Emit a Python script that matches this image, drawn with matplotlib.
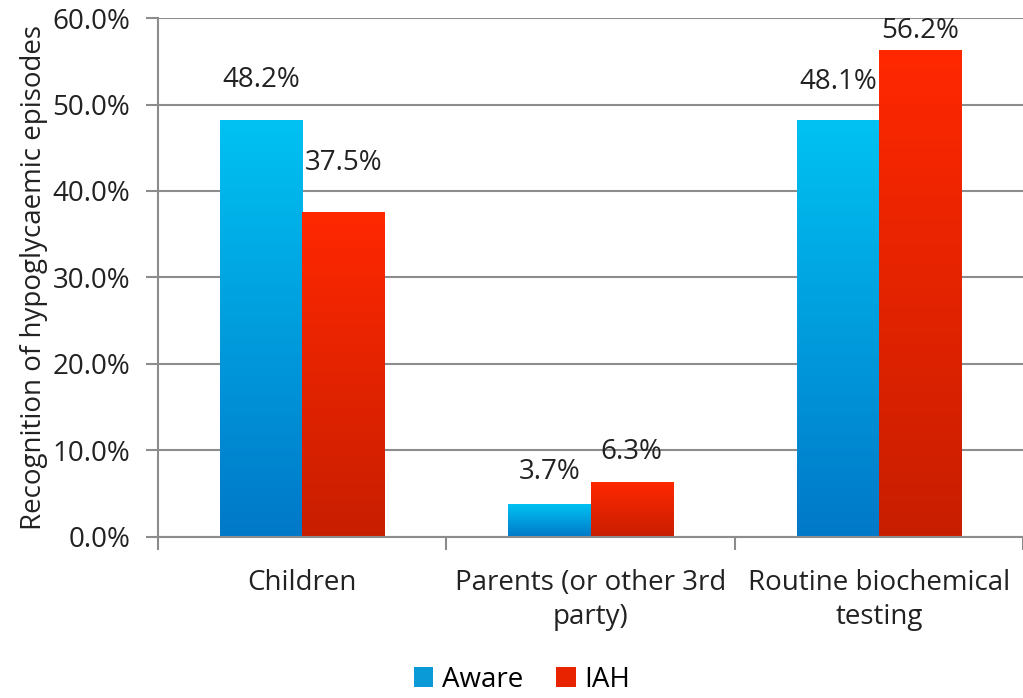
import numpy as np
import matplotlib
matplotlib.use('Agg')
from matplotlib import pyplot as plt
from matplotlib.colors import LinearSegmentedColormap
from matplotlib.patches import Patch

categories = ['Children', 'Parents (or other 3rd\nparty)', 'Routine biochemical\ntesting']
aware = [48.2, 3.7, 48.1]
iah = [37.5, 6.3, 56.2]
series_names = ['Aware', 'IAH']
yticks = [0, 10, 20, 30, 40, 50, 60]

# label offsets above bar top (points), matching the excel placement
aware_off = [29, 24, 28]
iah_off = [36, 22, 14]

plt.rcParams['font.family'] = ['Open Sans', 'DejaVu Sans']

blue_cm = LinearSegmentedColormap.from_list('b', ['#0078c8', '#00c2f2'])
red_cm = LinearSegmentedColormap.from_list('r', ['#c81e00', '#ff2800'])
txt = '#222222'

fig = plt.figure(figsize=(10.23, 6.98), dpi=100)
ax = fig.add_axes([0.1546, 0.2307, 0.8454, 0.7435])

x = np.arange(len(categories))
w = 0.285
grad = np.linspace(0, 1, 256).reshape(-1, 1)

def grad_bars(xs, vals, cmap, offs):
    bars = ax.bar(xs, vals, w, color='none', edgecolor='none', zorder=3)
    for b, v, o in zip(bars, vals, offs):
        x0 = b.get_x()
        ax.imshow(grad, cmap=cmap, origin='lower', aspect='auto',
                  extent=[x0, x0 + w, 0, v], zorder=3)
        ax.annotate('%.1f%%' % v, (x0 + w / 2, v), xytext=(0, o),
                    textcoords='offset points', ha='center', va='center',
                    fontsize=20, color=txt)
    return bars

grad_bars(x - w / 2, aware, blue_cm, aware_off)
grad_bars(x + w / 2, iah, red_cm, iah_off)

ax.set_xlim(-0.5, 2.467)
ax.set_ylim(0, 60)
ax.set_yticks(yticks)
ax.set_yticklabels(['%.1f%%' % t for t in yticks], fontsize=20, color=txt)
ax.set_xticks(x)
ax.set_xticklabels(categories, fontsize=20, color=txt, linespacing=1.3)
ax.set_xticks([-0.5, 0.5, 1.5, 2.5], minor=True)
ax.tick_params(axis='x', which='major', length=0, pad=23)
ax.tick_params(axis='x', which='minor', length=9, width=1.5, color='#8c8c8c')
ax.tick_params(axis='y', length=9, width=1.5, color='#8c8c8c', pad=11)
ax.grid(axis='y', color='#8c8c8c', linewidth=1.5, zorder=0)
ax.set_axisbelow(True)
for s in ['top', 'right']:
    ax.spines[s].set_visible(False)
for s in ['left', 'bottom']:
    ax.spines[s].set_color('#8c8c8c')
    ax.spines[s].set_linewidth(1.5)
ax.spines['bottom'].set_zorder(4)

ax.set_ylabel('Recognition of hypoglycaemic episodes', fontsize=20, color=txt, labelpad=3)

handles = [Patch(facecolor='#0a9ad8', edgecolor='none'), Patch(facecolor='#e82400', edgecolor='none')]
fig.legend(handles, series_names, loc='lower center', bbox_to_anchor=(0.51, -0.03), ncol=2,
           frameon=False, fontsize=20, handlelength=0.7, handleheight=0.7,
           handletextpad=0.3, columnspacing=1.2)

fig.savefig('out.png', dpi=100)
